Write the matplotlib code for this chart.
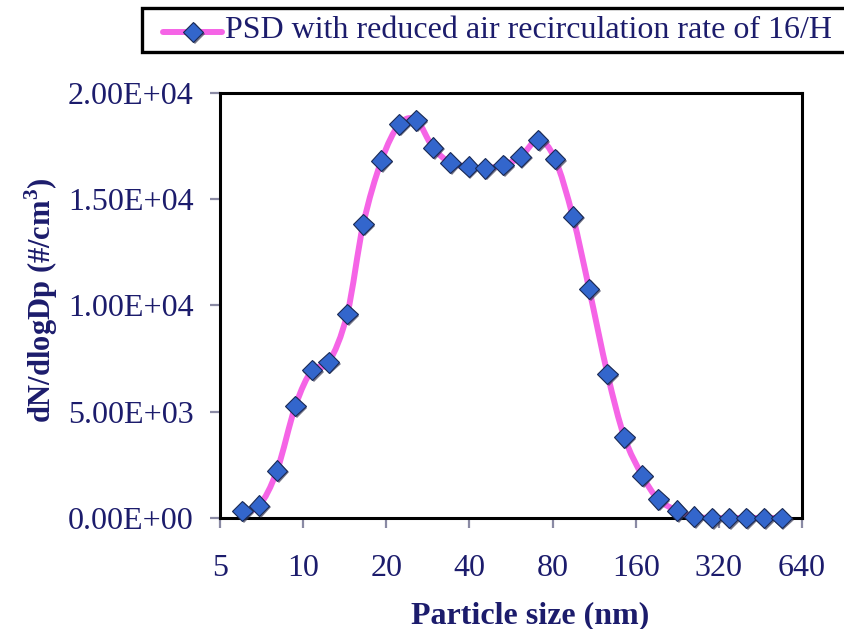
import matplotlib

matplotlib.use("Agg")
import matplotlib.pyplot as plt
import matplotlib.patheffects as pe
import numpy as np
from matplotlib.path import Path
from matplotlib.patches import PathPatch, Rectangle
from matplotlib.lines import Line2D

# Particle size distribution
SIZE_NM = [
    6.03, 6.93, 8.04, 9.37, 10.77, 12.38, 14.44, 16.5, 19.2, 22.3, 25.7,
    29.5, 34.1, 39.7, 45.6, 53.1, 61.3, 70.9, 81.6, 94.7, 108.5, 126.4,
    145.5, 169.0, 193.0, 225.5, 260.0, 302.0, 348.0, 402.0, 466.0, 540.0,
]
DN_DLOGDP = [
    330, 580, 2230, 5270, 6960, 7330, 9600, 13820, 16815, 18525, 18715,
    17430, 16720, 16530, 16455, 16610, 17000, 17790, 16900, 14180, 10780,
    6780, 3800, 1990, 880, 345, 60, 0, 0, 0, 0, 0,
]
X_TICKS = [5, 10, 20, 40, 80, 160, 320, 640]
Y_TICKS = [0, 5000, 10000, 15000, 20000]
Y_TICK_LABELS = ["0.00E+00", "5.00E+03", "1.00E+04", "1.50E+04", "2.00E+04"]
LEGEND_LABEL = "PSD with reduced air recirculation rate of 16/H"

INK = "#1c1c6c"
PINK = "#f564e6"
BLUE = "#3366cc"
EDGE = "#1a2a55"
TICK_GREY = "#8a8aa4"

plt.rcParams["font.family"] = ["Liberation Serif", "DejaVu Serif"]
plt.rcParams["mathtext.fontset"] = "custom"
plt.rcParams["mathtext.rm"] = "Liberation Serif"
plt.rcParams["mathtext.bf"] = "Liberation Serif:bold"

fig = plt.figure(figsize=(8.44, 6.29), dpi=100)
ax = fig.add_axes([0.2607, 0.1765, 0.6896, 0.6757])
ax.set_xscale("log", base=2)
ax.set_xlim(5, 640)
ax.set_ylim(0, 20000)


def smooth_path(xs, ys):
    # Catmull-Rom style smoothing (like a spreadsheet "smoothed line"),
    # built as cubic Bezier segments in log2(x) space.
    u = np.log2(np.asarray(xs, float))
    v = np.asarray(ys, float)
    pts = np.column_stack([u, v])
    n = len(pts)
    verts = [pts[0]]
    codes = [Path.MOVETO]
    for i in range(n - 1):
        p0 = pts[max(i - 1, 0)]
        p1 = pts[i]
        p2 = pts[i + 1]
        p3 = pts[min(i + 2, n - 1)]
        c1 = p1 + (p2 - p0) / 6.0
        c2 = p2 - (p3 - p1) / 6.0
        verts += [c1, c2, p2]
        codes += [Path.CURVE4] * 3
    verts = np.array(verts)
    verts[:, 0] = 2.0 ** verts[:, 0]
    return Path(verts, codes)


marker_shadow = [
    pe.SimplePatchShadow(offset=(1.2, -1.2), shadow_rgbFace="#3a3a55",
                         alpha=0.7),
    pe.Normal(),
]

curve = PathPatch(smooth_path(SIZE_NM, DN_DLOGDP), facecolor="none",
                  edgecolor=PINK, linewidth=4.3, capstyle="round",
                  joinstyle="round", zorder=2)
ax.add_patch(curve)
ax.plot(SIZE_NM, DN_DLOGDP, linestyle="none", marker="D", markersize=10.5,
        markerfacecolor=BLUE, markeredgecolor=EDGE, markeredgewidth=0.8,
        zorder=3, clip_on=False, path_effects=marker_shadow)

ax.set_xticks(X_TICKS)
ax.set_xticklabels([str(t) for t in X_TICKS])
ax.xaxis.set_minor_locator(matplotlib.ticker.NullLocator())
ax.set_yticks(Y_TICKS)
ax.set_yticklabels(Y_TICK_LABELS)

ax.tick_params(axis="both", direction="out", color=TICK_GREY, width=1.6,
               labelcolor=INK, labelsize=23)
ax.tick_params(axis="y", length=7, pad=12)
ax.tick_params(axis="x", length=7, pad=19)
for spine in ax.spines.values():
    spine.set_color("black")
    spine.set_linewidth(2.2)

ax.set_xlabel("Particle size (nm)", fontsize=23, fontweight="bold",
              color=INK)
ax.xaxis.set_label_coords(0.533, -0.195)
ax.set_ylabel(r"dN/dlogDp (#/cm$^{\mathbf{3}}$)", fontsize=22,
              fontweight="bold", color=INK)
ax.yaxis.set_label_coords(-0.275, 0.512)

# Legend box sitting above the plot area
fig.add_artist(Rectangle((142 / 844, 1 - 52 / 629), (846 - 142) / 844,
                         44 / 629, transform=fig.transFigure,
                         facecolor="white", edgecolor="black", linewidth=2.4))
fig.add_artist(Line2D([163 / 844, 222 / 844], [1 - 32 / 629, 1 - 32 / 629],
                      transform=fig.transFigure, color=PINK, linewidth=4.3,
                      solid_capstyle="round"))
fig.add_artist(Line2D([193 / 844], [1 - 32 / 629],
                      transform=fig.transFigure, linestyle="none",
                      marker="D", markersize=10.5, markerfacecolor=BLUE,
                      markeredgecolor=EDGE, markeredgewidth=0.8,
                      path_effects=marker_shadow))
fig.text(225 / 844, 1 - 31 / 629, LEGEND_LABEL, fontsize=23, color=INK,
         ha="left", va="center")

fig.savefig("out.png", dpi=100)
